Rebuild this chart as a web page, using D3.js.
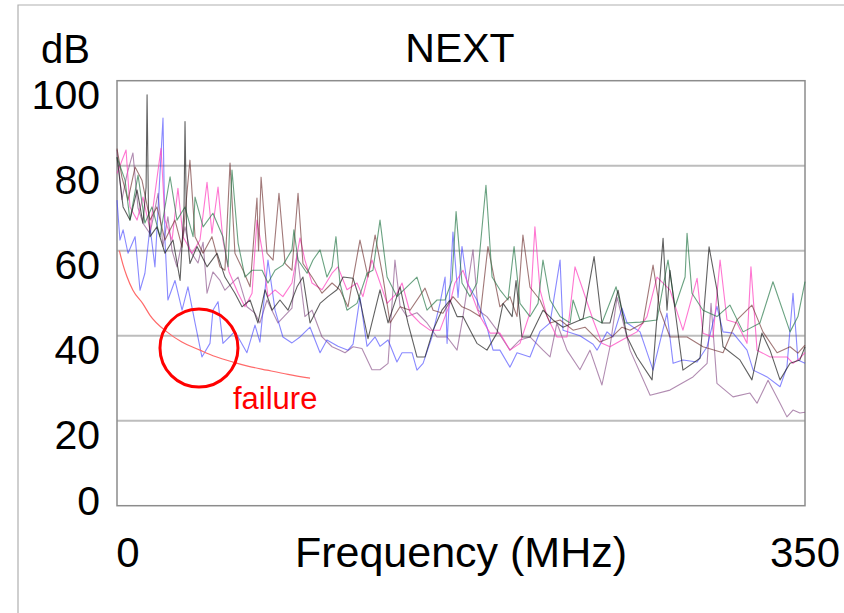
<!DOCTYPE html>
<html>
<head>
<meta charset="utf-8">
<script src="https://cdn.jsdelivr.net/npm/d3@7"></script>
<style>
  body { margin: 0; background: #fff; }
  text { font-family: "Liberation Sans", Arial, sans-serif; }
</style>
</head>
<body>
<svg id="chart" width="844" height="613"></svg>
<script>
// Axis values
const yTicks = [0, 20, 40, 60, 80, 100];
const xTicks = [0, 350];
const gridValues = [20, 40, 60, 80];

// NEXT sweeps: [MHz, dB]
const blue = [[0,71.9],[1.5,62.5],[3.1,64.9],[5.6,59.4],[9.2,63.3],[11.7,50.7],[14.2,54.7],[16.8,65.6],[19.3,56.2],[23.4,91.2],[24.4,62.5],[25.9,48.4],[29.5,53],[33.1,46],[36.1,51.5],[39.7,43],[43.2,35],[47.3,38.2],[48.8,46],[51.4,48],[53.9,38.2],[60,41],[66.1,36],[70.2,42.5],[72.7,38.5],[76.8,57.8],[80.4,46],[84.4,39.7],[89,38.3],[93.1,39.7],[98.2,42],[103.3,36],[106.8,39],[112.4,37.5],[117.5,36.6],[120.1,38],[123.6,49],[127.2,37.5],[131.3,39.7],[133.8,37.5],[137.9,39],[142.4,33.8],[145,36],[150.1,36],[152.6,31.9],[155.7,33.5],[160.2,39.7],[164.3,47.6],[166.9,53.8],[167.9,38.2],[170.9,64.4],[173.5,49],[175.5,61],[178.1,52.4],[183.1,48.4],[188.2,42],[191.3,36.6],[194.8,36.6],[199.9,32.6],[203.5,36],[210.1,35],[215.2,41],[220.3,43],[225.4,57.8],[226.9,41.3],[235.5,40],[242.2,38],[244.2,36.6],[249.3,40.9],[252.3,39.7],[256.9,46.5],[259.5,43],[266.1,40.9],[272.7,31.9],[279.8,45.3],[282.9,33.5],[287.9,34.3],[295.1,33.8],[300.2,37.4],[305.2,46.9],[308.3,40.9],[313.4,40.6],[320.5,36.6],[323.6,31.9],[330.7,30.3],[337.3,28],[340.8,32.6],[343.9,50],[346.4,34.3],[350,33.5]];

const purple = [[0,83.7],[2.5,72],[5.1,78],[8.1,83],[10.7,70],[13.2,66.5],[16.8,64],[20.9,73.5],[23.4,61],[25.9,68],[28,60],[30.5,56.2],[34.6,65.6],[37.1,60],[41.2,57.1],[43.8,62],[45.8,50],[48.8,55],[52.4,53],[54.9,50.7],[61.6,53.8],[66.1,46.8],[70.2,45.3],[72.7,43],[76.3,48.4],[81.9,43],[89,46.5],[91.6,59.4],[95.6,44.5],[99.2,46],[104.3,39.7],[109.4,37.4],[113.4,36.6],[116,36],[120.1,37.4],[124.6,37],[129.7,32],[133.8,32],[137.9,33.5],[141.4,57.8],[144,47],[147.5,44.5],[152.6,45.4],[157.7,43],[162.8,39.7],[167.9,39.7],[173,36.6],[176,44.5],[181.1,60.2],[183.7,46],[188.2,44.5],[193.3,41.3],[199.9,36.6],[205,39],[210.1,39.7],[216.7,36.6],[220.3,35],[223.8,43],[228.9,36.6],[235.5,32],[240.6,36.6],[246.7,28.4],[250.8,37.4],[254.4,49],[261,36.6],[271.2,26],[281.3,27.2],[293,30.3],[300.2,33.5],[302.2,47.6],[305.2,28.8],[313.4,25.6],[322,26.5],[325.6,24.1],[331.2,29.5],[337.3,24.1],[340.8,20.9],[343.9,22.5],[347.4,21.8],[350,22]];

const brown = [[0,84],[2.5,77.3],[5.6,71.9],[9.2,79.7],[12.7,76.6],[16.8,67.2],[20.3,70.3],[24.4,62.5],[29.5,67.2],[33.1,60.8],[37.1,81.3],[39.7,63.3],[43.8,59.4],[48.3,63.3],[52.4,56.2],[54.9,55.4],[57.5,80.6],[60,59.4],[64.1,55.4],[67.7,51.5],[71.2,72.4],[72,60],[73.3,77.3],[76.3,59.4],[79.4,57.8],[82.4,73.5],[85.5,57],[89,55.4],[92.1,73.5],[94.6,57],[99.2,53.8],[104.3,50],[109.4,52.4],[113.4,50.8],[117.5,46.8],[123.6,62.5],[127.7,53.8],[131.3,63.7],[135.3,53.8],[138.9,43],[144,46.8],[149.1,46],[156.7,51.2],[160.8,46],[165.8,45.3],[170.9,49.2],[175.5,46.8],[179.6,46],[184.7,44.5],[188.7,61],[194.8,46.8],[199.9,49.2],[203.5,44.5],[206.5,63.7],[210.1,51.4],[215.2,48.4],[220.3,43],[225.4,43.7],[232,41.3],[238.1,42],[245.7,38.5],[251.8,39.7],[256.9,42],[261,41.3],[267.6,43],[272.7,56.6],[276.2,46],[281.3,39.7],[290,39.7],[298.1,37.4],[308.3,36],[315.4,43.7],[323,47.2],[328.6,40.9],[335.8,36],[342.4,37.4],[346.4,35.9],[350,37.8]];

const black = [[0,82],[3.1,70.3],[6.6,67.2],[10.2,74.3],[13.2,66.5],[14.8,75],[15.3,96.7],[16,70],[16.8,63.3],[20.3,65.6],[24.4,59.4],[28.5,62.5],[32.1,53],[34.1,70],[34.6,90.4],[35.4,65],[37.1,57],[40.7,61],[45.8,56.2],[50.9,59.4],[54.9,53.8],[60,50],[63.6,46.8],[67.7,48.4],[71.7,43],[75.3,50.8],[78.9,46],[82.9,48.4],[87,46],[91.6,51.5],[94.6,53.8],[98.2,43],[103.3,47.6],[107.3,49.2],[111.9,50.8],[115,53.8],[120.1,53.5],[123.6,48.4],[127.7,39.3],[133.8,50.8],[137.9,43],[144,51.5],[148,43],[152.6,35],[156.7,35],[160.8,41.3],[165.3,46],[169.4,48.4],[173,44.5],[176,44.5],[183.1,38.2],[188.2,36.6],[193.3,40.6],[196.4,47.6],[201,44.5],[203,53],[206,39.7],[210.1,39.7],[216.7,46],[221.8,43.7],[226.9,42],[232,43],[237.1,44],[242.7,58.6],[246.7,43],[250.8,43],[254.9,50.7],[259.5,39.7],[264.5,35],[272.2,29.6],[277.8,62.9],[279.8,46],[281.3,55.4],[283.9,46],[287.9,31.9],[296.6,34.7],[301.2,60.9],[305.2,50.8],[308.3,37.4],[316.9,34.3],[323,29.6],[328.1,40.6],[332.2,36.6],[337.3,29.6],[342.4,33.5],[347.4,34.3],[350,37.4]];

const green = [[0,82],[4.1,76.6],[6.6,67.2],[10.7,77.8],[14.2,66.5],[17.8,70.3],[21.9,63.3],[27,77.4],[30.5,67.2],[34.6,70.3],[38.7,63.3],[39.7,72.6],[43.8,65.6],[48.8,68.8],[53.9,63.3],[56.5,56.2],[58.5,79],[61.6,61.8],[65.1,53.8],[68.7,55.4],[73.8,55.4],[76.8,52.4],[80.4,55.4],[84.4,56.6],[89,60.2],[90,64.9],[92.1,57.8],[96.7,54.7],[99.7,57.8],[103.3,60.2],[106.8,53.8],[109.4,56.2],[111.4,63.3],[113.4,52.4],[117,46],[122.1,47.6],[127.2,54.7],[130.2,55.4],[133.8,67.2],[137.4,53.8],[142.4,49.2],[147.5,51.5],[152.6,53.8],[157.7,46],[162.8,48.4],[166.9,48.4],[170.4,53],[172.5,69.2],[175.5,52.4],[179.6,49.2],[183.1,52.4],[187.7,75.4],[190.8,53.8],[194.8,50.8],[198.9,48.4],[202,61],[205,47.6],[210.1,44.5],[214.2,47.6],[216.7,57.8],[220.3,48.4],[225.4,44.5],[230.5,43],[232,48.4],[235.5,43.7],[240.6,44.5],[246.7,43],[253.9,51.5],[258.4,43],[266.1,43.2],[274.7,43.7],[280.3,57.8],[283.9,46.8],[289,53.8],[290,64.1],[292.5,50],[298.1,46],[305.2,44.5],[311.8,47.2],[318.5,40.9],[327.1,43],[333.7,52.7],[342.4,40.9],[346.4,44.5],[350,52.7]];

const pink = [[0,78.2],[4.6,83.7],[6.6,70.3],[10.2,67.2],[13.2,72.6],[16.8,64.9],[22.4,84.1],[24.4,67.2],[28,62.5],[31,74.7],[33.6,63.3],[38.2,59.4],[42.2,62.5],[45.8,76.1],[48.3,64.1],[51.4,75],[53.9,62.5],[57,55],[61.6,50],[65.1,46.8],[68.7,50],[71.2,67.2],[73.8,60.2],[76.8,49.2],[80.4,50.8],[84.4,49.2],[89,52.4],[93.1,63],[95.6,57.8],[99.2,52.4],[104.3,50.8],[109.4,54.7],[112.4,56.2],[117,50.8],[122.1,52.4],[125.1,49.2],[129.7,57.8],[132.8,53.8],[137.4,47.6],[142.4,50],[145,52.4],[149.1,45.4],[154.1,43],[159.2,41.3],[164.3,41.3],[169.4,47.6],[171.9,52.4],[176,55.4],[179.6,50.8],[184.7,44.5],[189.8,40.6],[194.8,40.6],[199.9,36.6],[205,38.2],[210.1,45.4],[212.6,65.6],[215.2,50.8],[218.8,44.5],[223.8,39.7],[228.9,39.7],[233,56.2],[237.1,50.7],[242.2,43.7],[246.7,38.2],[250.8,37.4],[256.9,39],[264.5,40.9],[269.6,44.5],[274.7,53.8],[281.3,50.8],[287.9,41.3],[295.1,53.5],[298.1,40.6],[303.2,39.7],[306.8,57.8],[310.3,43.7],[315.4,43],[320.5,38.2],[322.5,56.2],[325.6,36.6],[332.2,35],[340.8,35],[343.9,33.5],[347.4,34.7],[350,36]];

// Limit line and annotation
const failLimit = [[1.2,60],[3,56.8],[5,54],[8.1,50.7],[13.2,47.5],[16.8,44.8],[25.4,40.9],[33,38.5],[42.2,36.6],[50,35.1],[59,33.8],[67,32.8],[76.3,31.9],[87,30.9],[98.2,30]];
const failMark = [41.7, 37.1];

const series = [
  { data: purple, color: "#7d3f7d", opacity: 0.6 },
  { data: blue, color: "#3a3aff", opacity: 0.6 },
  { data: pink, color: "#ff3cbe", opacity: 0.7 },
  { data: brown, color: "#6e3030", opacity: 0.65 },
  { data: green, color: "#2b7a4b", opacity: 0.7 },
  { data: black, color: "#1e1e1e", opacity: 0.7 }
];

const svg = d3.select("#chart");

// Plot area
const plotLeft = 117, plotRight = 805, plotTop = 80.7, plotBottom = 505.7;

const x = d3.scaleLinear().domain([0, 350]).range([plotLeft, plotRight]);
const y = d3.scaleLinear().domain([0, 100]).range([plotBottom, plotTop]);

// Outer frame
svg.append("path")
  .attr("d", "M18,613V5H844")
  .attr("fill", "none")
  .attr("stroke", "#b0b0b0")
  .attr("stroke-width", 1.2);

// Gridlines
svg.selectAll(".grid")
  .data(gridValues)
  .join("line")
    .attr("class", "grid")
    .attr("x1", plotLeft)
    .attr("x2", plotRight)
    .attr("y1", d => y(d))
    .attr("y2", d => y(d))
    .attr("stroke", "#bdbdbd")
    .attr("stroke-width", 2);

// Plot border
svg.append("rect")
  .attr("x", plotLeft)
  .attr("y", plotTop)
  .attr("width", plotRight - plotLeft)
  .attr("height", plotBottom - plotTop)
  .attr("fill", "none")
  .attr("stroke", "#8c8c8c")
  .attr("stroke-width", 1.5);

// Sweeps
const line = d3.line()
  .x(d => x(d[0]))
  .y(d => y(d[1]));

svg.append("g")
  .selectAll("path")
  .data(series)
  .join("path")
    .attr("d", d => line(d.data))
    .attr("fill", "none")
    .attr("stroke", d => d.color)
    .attr("stroke-opacity", d => d.opacity)
    .attr("stroke-width", 1.1)
    .attr("stroke-linejoin", "round");

// Failure limit curve
svg.append("path")
  .attr("d", d3.line().x(d => x(d[0])).y(d => y(d[1])).curve(d3.curveMonotoneX)(failLimit))
  .attr("fill", "none")
  .attr("stroke", "#ff6a6a")
  .attr("stroke-width", 1.2);

// Failure circle + label
svg.append("circle")
  .attr("cx", x(failMark[0]))
  .attr("cy", y(failMark[1]))
  .attr("r", 39)
  .attr("fill", "none")
  .attr("stroke", "#ff0000")
  .attr("stroke-width", 3);

svg.append("text")
  .attr("x", x(failMark[0]) + 34)
  .attr("y", y(failMark[1]) + 61)
  .attr("fill", "#ff0000")
  .style("font-size", "31px")
  .text("failure");

// Y tick labels
svg.selectAll(".ytick")
  .data(yTicks)
  .join("text")
    .attr("class", "ytick")
    .attr("x", 100)
    .attr("y", d => y(d) + (d === 0 ? 9 : 28))
    .attr("text-anchor", "end")
    .style("font-size", "41px")
    .text(d => d);

// X tick labels
svg.selectAll(".xtick")
  .data(xTicks)
  .join("text")
    .attr("class", "xtick")
    .attr("x", d => x(d) + (d === 0 ? 11 : 0))
    .attr("y", 567)
    .attr("text-anchor", "middle")
    .style("font-size", "42px")
    .text(d => d);

// Axis titles
svg.append("text")
  .attr("x", 461)
  .attr("y", 567)
  .attr("text-anchor", "middle")
  .style("font-size", "43px")
  .text("Frequency (MHz)");

svg.append("text")
  .attr("x", 41)
  .attr("y", 63)
  .style("font-size", "40px")
  .text("dB");

// Title
svg.append("text")
  .attr("x", 460)
  .attr("y", 62)
  .attr("text-anchor", "middle")
  .style("font-size", "41px")
  .text("NEXT");
</script>
</body>
</html>
